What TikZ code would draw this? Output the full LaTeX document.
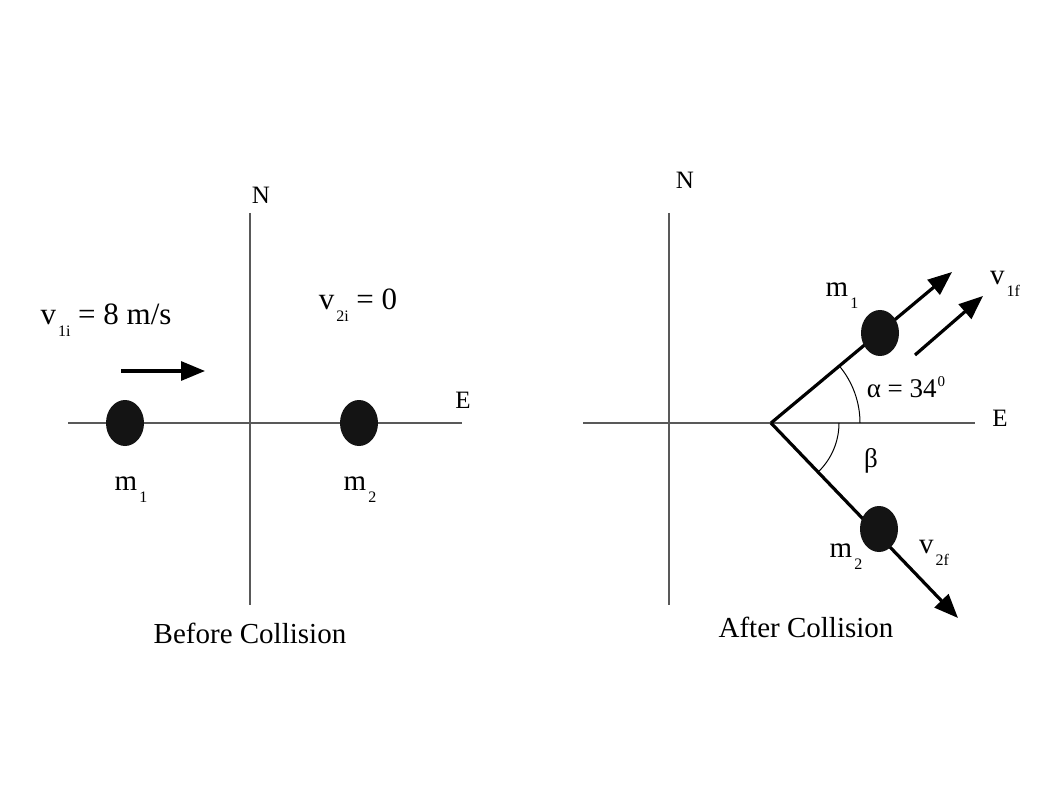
\documentclass[tikz,border=0pt]{standalone}
\usepackage{fontspec}
\setmainfont{Liberation Serif}
\usetikzlibrary{arrows.meta,shapes.geometric}

\newcommand{\lsub}[1]{\kern2pt\raisebox{-12pt}{\fontsize{16}{16}\selectfont #1}}
\newcommand{\lsup}[1]{\kern1pt\raisebox{11pt}{\fontsize{15}{15}\selectfont #1}}

\begin{document}
\begin{tikzpicture}[x=1pt,y=-1pt]
    \tikzstyle{every node}+=[inner sep=0pt]
    \tikzstyle{axis}=[gray!70!black, line width=1.4pt]
    \tikzstyle{vec}=[black, line width=3.2pt, -{Triangle[length=24pt,width=19pt]}]
    \tikzstyle{ball}=[ellipse, fill=black!92, minimum width=38pt, minimum height=46pt]
    \tikzstyle{lbl}=[font=\fontsize{29}{32}\selectfont]
    \tikzstyle{dir}=[font=\fontsize{25}{27}\selectfont]
    \useasboundingbox (0,0) rectangle (1058,794);
    % before
    \coordinate (lN) at (250,213);
    \coordinate (lS) at (250,605);
    \coordinate (lW) at (68,423);
    \coordinate (lE) at (462,423);
    \draw [axis] (lN) -- (lS);
    \draw [axis] (lW) -- (lE);
    \node [dir] (lNl) at (261,195) {N};
    \node [dir] (lEl) at (463,400) {E};
    \node [ball] (b1) at (125,423) {};
    \node [ball] (b2) at (359,423) {};
    \node [lbl] (m1) at (131,490) {m\lsub{1}};
    \node [lbl] (m2) at (360,490) {m\lsub{2}};
    \node [lbl, font=\fontsize{31}{34}\selectfont] (v1i) at (106,320) {v\lsub{1i} = 8 m/s};
    \node [lbl, font=\fontsize{31}{34}\selectfont] (v2i) at (358,305) {v\lsub{2i} = 0};
    \coordinate (p1) at (121,371);
    \coordinate (p2) at (205,371);
    \draw [vec] (p1) -- (p2);
    \node [lbl] (before) at (250,633) {Before Collision};
    % after
    \coordinate (rN) at (669,213);
    \coordinate (rS) at (669,605);
    \coordinate (rW) at (583,423);
    \coordinate (rE) at (975,423);
    \draw [axis] (rN) -- (rS);
    \draw [axis] (rW) -- (rE);
    \node [dir] (rNl) at (685,180) {N};
    \node [dir] (rEl) at (1000,418) {E};
    \coordinate (o) at (771,423);
    \coordinate (t1) at (952,272);
    \coordinate (t2) at (958,618);
    \draw [vec] (o) -- (t1);
    \draw [vec] (o) -- (t2);
    \node [ball] (c1) at (880,333) {};
    \node [ball] (c2) at (879,529) {};
    \coordinate (q1) at (915,355);
    \coordinate (q2) at (983,296);
    \draw [vec] (q1) -- (q2);
    \draw [black, line width=1pt] (o) ++(89,0) arc [start angle=0, end angle=-39.8, radius=89];
    \draw [black, line width=1pt] (o) ++(68,0) arc [start angle=0, end angle=46.2, radius=68];
    \node [lbl] (m1r) at (842,296) {m\lsub{1}};
    \node [lbl] (m2r) at (846,557) {m\lsub{2}};
    \node [lbl] (v1f) at (1005,284) {v\lsub{1f}};
    \node [lbl] (v2f) at (934,553) {v\lsub{2f}};
    \node [lbl, font=\fontsize{27}{30}\selectfont] (alpha) at (906,387) {α = 34\lsup{0}};
    \node [lbl, font=\fontsize{27}{30}\selectfont] (beta) at (871,461) {β};
    \node [lbl] (after) at (806,627) {After Collision};
\end{tikzpicture}
\end{document}
